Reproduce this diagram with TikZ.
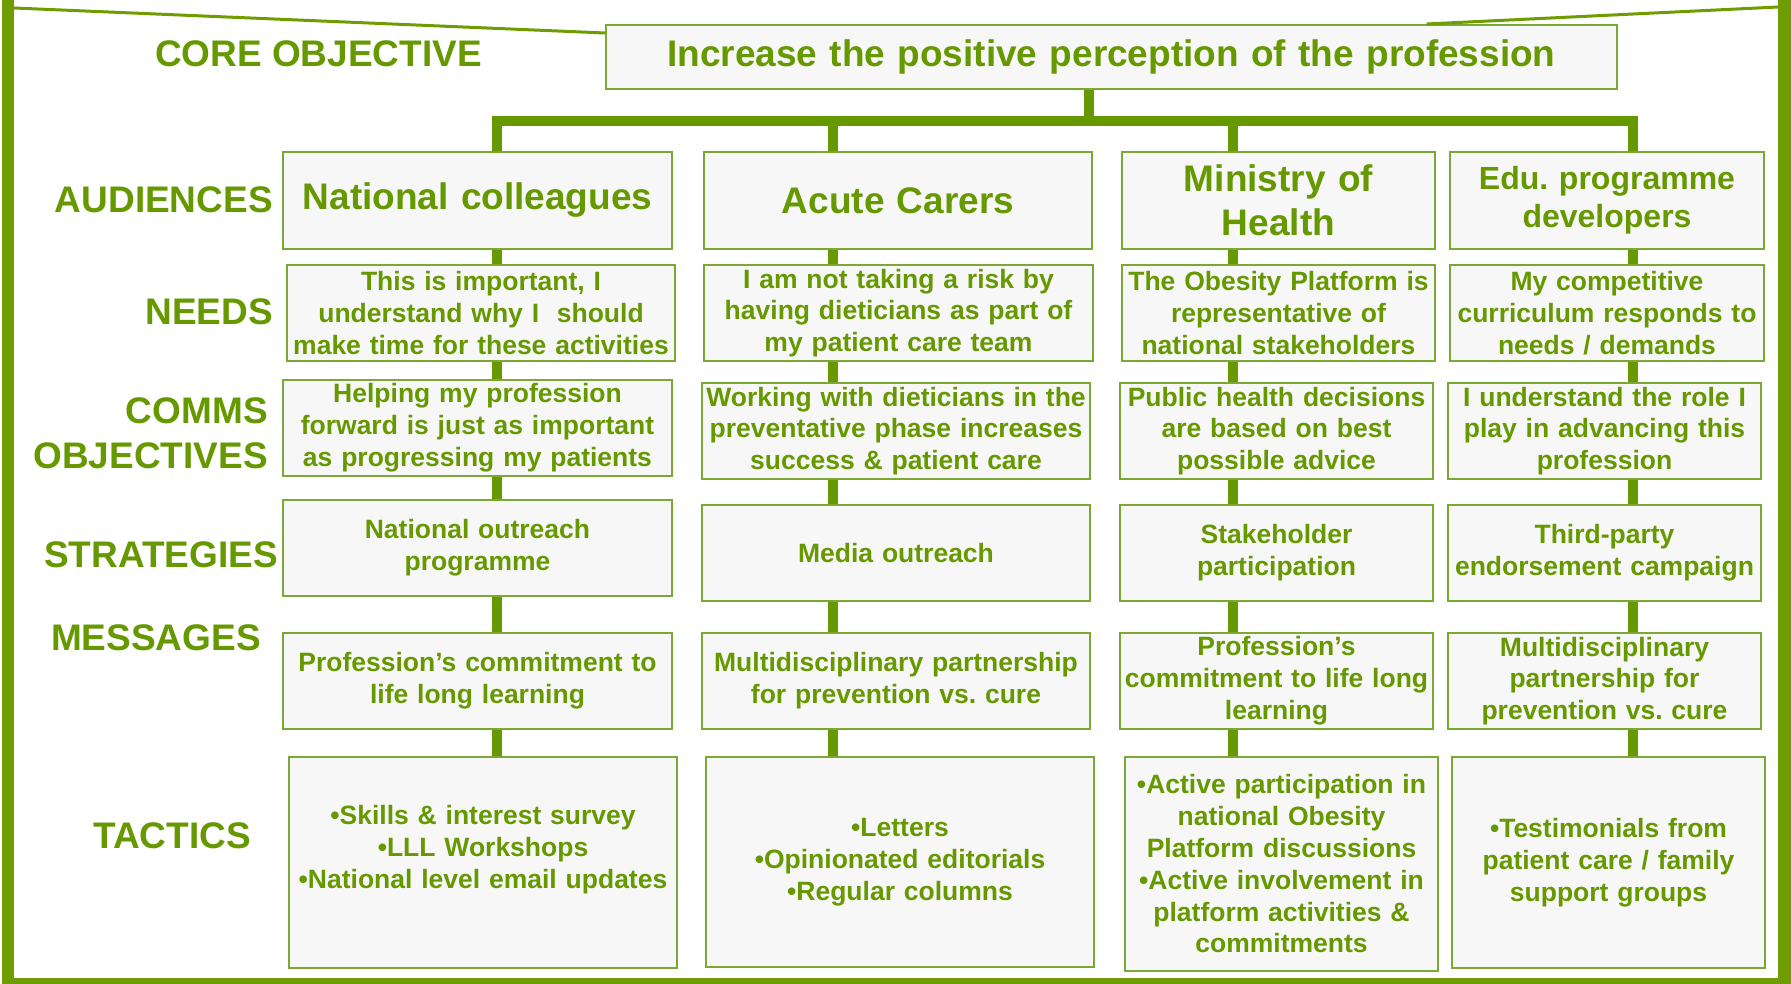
\documentclass[tikz,border=0pt]{standalone}
\usepackage{fontspec}
\setmainfont{Liberation Sans}
\usetikzlibrary{calc}
\frenchspacing
\definecolor{txtgreen}{HTML}{669900}
\definecolor{framegreen}{HTML}{6F9C00}
\definecolor{boxline}{HTML}{7BA832}
\definecolor{boxfill}{HTML}{F7F7F7}

% box given by its corners (x1,y1)-(x2,y2), text centred inside
\newcommand\boxnode[7]{%
  \pgfmathsetmacro\bxW{#5-#3}\pgfmathsetmacro\bxH{#6-#4}%
  \pgfmathsetmacro\bxX{(#3+#5)/2}\pgfmathsetmacro\bxY{(#4+#6)/2}%
  \pgfmathsetmacro\bxT{#5-#3-4}%
  \node[cbox,#2,minimum width=\bxW pt,minimum height=\bxH pt,text width=\bxT pt] (#1) at (\bxX,\bxY) {#7};}

\begin{document}
\begin{tikzpicture}[x=1pt,y=-1pt,
  every node/.style={text=txtgreen, font=\bfseries},
  cbox/.style={draw=boxline, line width=2pt, fill=boxfill, inner sep=0pt, align=center},
  big/.style={font=\bfseries\fontsize{37}{44.4}\selectfont},
  mid/.style={font=\bfseries\fontsize{32}{38.4}\selectfont},
  small/.style={font=\bfseries\fontsize{26.5}{31.8}\selectfont},
  rowlabel/.style={font=\bfseries\fontsize{37}{44.4}\selectfont, inner sep=0pt},
  conn/.style={draw=txtgreen, line width=10pt},
  thinframe/.style={draw=framegreen, line width=3pt},
]
\useasboundingbox (0,0) rectangle (1791,984);

% outer frame
\fill[framegreen] (2,0) rectangle (14,984);
\fill[framegreen] (1778,0) rectangle (1791,984);
\fill[framegreen] (2,978) rectangle (1791,984);

% core objective
\boxnode{core}{big}{606}{25}{1617}{89}{Increase the positive perception of the profession}
\coordinate (tl) at (14,8);
\coordinate (tr) at (1778,7);
\draw[thinframe] (tl) -- ($(core.north west)+(0,9)$);
\draw[thinframe] (tr) -- ($(core.north west)!0.811!(core.north east)$);

% row labels
\node[rowlabel, anchor=base] (lcore) at (318.5,67) {CORE OBJECTIVE};
\node[rowlabel, anchor=base east] (laud) at (273,213) {AUDIENCES};
\node[rowlabel, anchor=base east] (lneed) at (273,325) {NEEDS};
\node[rowlabel, anchor=base east] (lcomA) at (268,423) {COMMS};
\node[rowlabel, anchor=base east] (lcomB) at (268,468) {OBJECTIVES};
\node[rowlabel, anchor=base east] (lstr) at (278,567) {STRATEGIES};
\node[rowlabel, anchor=base east] (lmsg) at (261,650) {MESSAGES};
\node[rowlabel, anchor=base east] (ltac) at (251,848) {TACTICS};

% audiences
\boxnode{a1}{big}{283}{152}{672}{249}{National colleagues}
\boxnode{a2}{big}{704}{152}{1092}{249}{Acute Carers}
\boxnode{a3}{big}{1122}{152}{1435}{249}{Ministry of\\Health}
\boxnode{a4}{mid}{1450}{152}{1764}{249}{Edu. programme\\developers}

% needs
\boxnode{n1}{small}{287}{265}{675}{361}{This is important, I\\understand why I\ \ should\\make time for these activities}
\boxnode{n2}{small}{704}{265}{1093}{361}{I am not taking a risk by\\having dieticians as part of\\my patient care team}
\boxnode{n3}{small}{1122}{265}{1435}{361}{The Obesity Platform is\\representative of\\national stakeholders}
\boxnode{n4}{small}{1450}{265}{1764}{361}{My competitive\\curriculum responds to\\needs / demands}

% comms objectives
\boxnode{c1}{small}{283}{380}{672}{476}{Helping my profession\\forward is just as important\\as progressing my patients}
\boxnode{c2}{small}{702}{383}{1090}{479}{Working with dieticians in the\\preventative phase increases\\success \& patient care}
\boxnode{c3}{small}{1120}{383}{1433}{479}{Public health decisions\\are based on best\\possible advice}
\boxnode{c4}{small}{1448}{383}{1761}{479}{I understand the role I\\play in advancing this\\profession}

% strategies
\boxnode{s1}{small}{283}{500}{672}{596}{National outreach\\programme}
\boxnode{s2}{small}{702}{505}{1090}{601}{Media outreach}
\boxnode{s3}{small}{1120}{505}{1433}{601}{Stakeholder\\participation}
\boxnode{s4}{small}{1448}{505}{1761}{601}{Third-party\\endorsement campaign}

% messages
\boxnode{m1}{small}{283}{633}{672}{729}{Profession’s commitment to\\life long learning}
\boxnode{m2}{small}{702}{633}{1090}{729}{Multidisciplinary partnership\\for prevention vs. cure}
\boxnode{m3}{small}{1120}{633}{1433}{729}{Profession’s\\commitment to life long\\learning}
\boxnode{m4}{small}{1448}{633}{1761}{729}{Multidisciplinary\\partnership for\\prevention vs. cure}

% tactics
\boxnode{t1}{small}{289}{757}{677}{968}{•Skills \& interest survey\\•LLL Workshops\\•National level email updates\\\mbox{}}
\boxnode{t2}{small}{706}{757}{1094}{967}{•Letters\\•Opinionated editorials\\•Regular columns}
\boxnode{t3}{small}{1125}{757}{1438}{971}{•Active participation in\\national Obesity\\Platform discussions\\•Active involvement in\\platform activities \&\\commitments}
\boxnode{t4}{small}{1452}{757}{1765}{968}{•Testimonials from\\patient care / family\\support groups}

% tree from the core objective to the audiences
\coordinate (trunk) at (1089,121);
\coordinate (b1) at (497,121);
\coordinate (b2) at (833,121);
\coordinate (b3) at (1233,121);
\coordinate (b4) at (1633,121);
\draw[conn] (core.south -| trunk) -- (trunk);
\draw[conn] (a1.north -| b1) -- (b1) -- (b4) -- (a4.north -| b4);
\draw[conn] (b2) -- (a2.north -| b2);
\draw[conn] (b3) -- (a3.north -| b3);

% column links between the rows
\foreach \c in {1,...,4}{
  \draw[conn] (a\c.south -| b\c) -- (n\c.north -| b\c);
  \draw[conn] (n\c.south -| b\c) -- (c\c.north -| b\c);
  \draw[conn] (c\c.south -| b\c) -- (s\c.north -| b\c);
  \draw[conn] (s\c.south -| b\c) -- (m\c.north -| b\c);
  \draw[conn] (m\c.south -| b\c) -- (t\c.north -| b\c);
}
\end{tikzpicture}
\end{document}
